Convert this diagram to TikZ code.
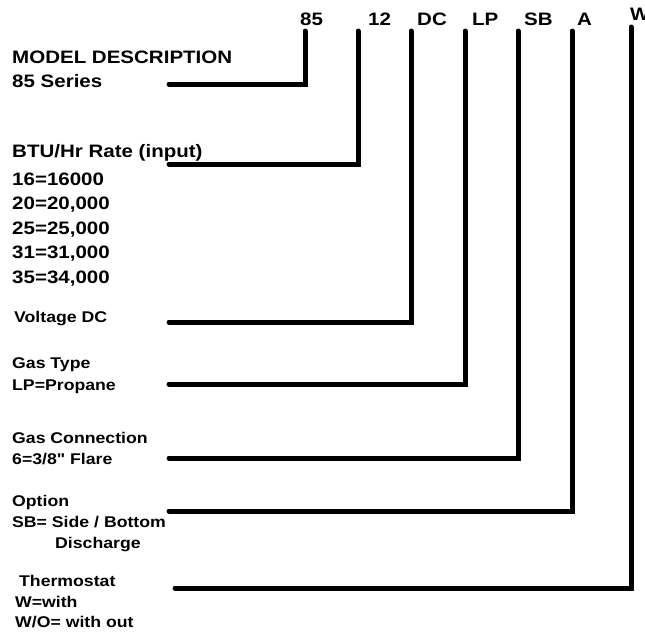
\documentclass[tikz,border=0pt]{standalone}
\usepackage{fontspec}
\newfontfamily\codefont{Liberation Sans}[FakeStretch=1.14]

\begin{document}
\begin{tikzpicture}[x=1pt,y=-1pt,
    leader/.style={line width=5pt,line cap=round,line join=miter},
    big/.style={anchor=base west,inner sep=0pt,font=\codefont\bfseries\fontsize{18}{20}\selectfont},
    small/.style={anchor=base west,inner sep=0pt,font=\codefont\bfseries\fontsize{15.5}{18}\selectfont},
    code/.style={big}
  ]
  \path[use as bounding box] (0,0) rectangle (645,632);

  % model code along the top
  \node[code] (c85) at (300,25) {85};
  \node[code] (c12) at (368,25) {12};
  \node[code] (cDC) at (417,25) {DC};
  \node[code] (cLP) at (472,25) {LP};
  \node[code] (cSB) at (524,25) {SB};
  \node[code] (cA)  at (577,25) {A};
  \node[code] (cW)  at (630,20) {W};

  % descriptions
  \node[big] (mdesc) at (12,63) {MODEL DESCRIPTION};
  \node[big] (mseries) at (12,87) {85 Series};

  \node[big] (btu) at (12,157) {BTU/Hr Rate (input)};
  \node[big] (r16) at (12,185) {16=16000};
  \node[big] (r20) at (12,209) {20=20,000};
  \node[big] (r25) at (12,234) {25=25,000};
  \node[big] (r31) at (12,258) {31=31,000};
  \node[big] (r35) at (12,283) {35=34,000};

  \node[small] (volt) at (14,322) {Voltage DC};

  \node[small] (gastype) at (12,368) {Gas Type};
  \node[small] (propane) at (12,390) {LP=Propane};

  \node[small] (gascon) at (12,443) {Gas Connection};
  \node[small] (flare) at (12,464) {6=3/8" Flare};

  \node[small] (option) at (12,506) {Option};
  \node[small] (sbopt) at (12,527) {SB= Side / Bottom};
  \node[small] (disch) at (55,548) {Discharge};

  \node[small] (thermo) at (19,586) {Thermostat};
  \node[small] (wwith) at (15,607) {W=with};
  \node[small] (wout) at (15,627) {W/O= with out};

  % leader lines
  \coordinate (top85) at (305,31);  \coordinate (end85) at (169,84);
  \coordinate (top12) at (358,31);  \coordinate (end12) at (169,164);
  \coordinate (topDC) at (411,31);  \coordinate (endDC) at (169,322);
  \coordinate (topLP) at (465,31);  \coordinate (endLP) at (169,384);
  \coordinate (topSB) at (518,31);  \coordinate (endSB) at (169,458);
  \coordinate (topA)  at (572,31);  \coordinate (endA)  at (169,511);
  \coordinate (topW)  at (631,27);  \coordinate (endW)  at (175,588);

  \draw[leader] (end85) -| (top85);
  \draw[leader] (end12) -| (top12);
  \draw[leader] (endDC) -| (topDC);
  \draw[leader] (endLP) -| (topLP);
  \draw[leader] (endSB) -| (topSB);
  \draw[leader] (endA) -| (topA);
  \draw[leader] (endW) -| (topW);
\end{tikzpicture}
\end{document}
